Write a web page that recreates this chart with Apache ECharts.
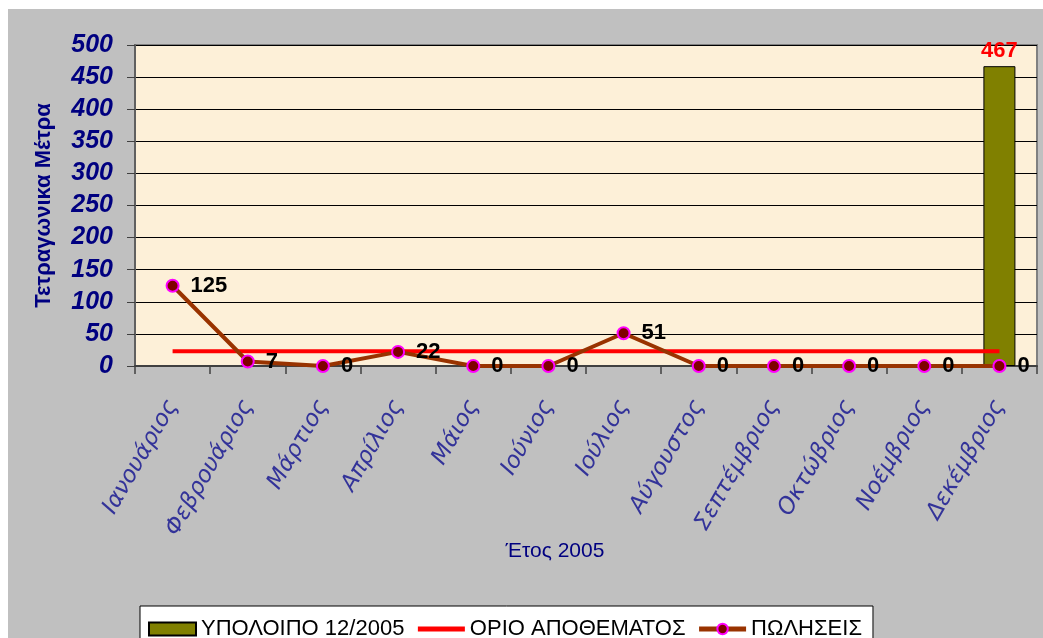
<!DOCTYPE html>
<html>
<head>
<meta charset="utf-8">
<script src="https://cdn.jsdelivr.net/npm/echarts@6/dist/echarts.min.js"></script>
<style>
  html, body { margin: 0; padding: 0; background: #fff; }
  #main { position: absolute; left: 8px; top: 9px; width: 1035px; height: 629px; }
</style>
</head>
<body>
<div id="main"></div>
<script>
// months of 2005
var months = ['Ιανουάριος', 'Φεβρουάριος', 'Μάρτιος', 'Απρίλιος', 'Μάιος', 'Ιούνιος',
    'Ιούλιος', 'Αύγουστος', 'Σεπτέμβριος', 'Οκτώβριος', 'Νοέμβριος', 'Δεκέμβριος'];
var balance = ['-', '-', '-', '-', '-', '-', '-', '-', '-', '-', '-', 467];
var stockLimit = [23, 23, 23, 23, 23, 23, 23, 23, 23, 23, 23, 23];
var sales = [125, 7, 0, 22, 0, 0, 51, 0, 0, 0, 0, 0];

var font = 'Liberation Sans, Arial, sans-serif';
var chart = echarts.init(document.getElementById('main'));

chart.setOption({
    backgroundColor: '#c0c0c0',
    animation: false,
    textStyle: { fontFamily: font },
    grid: {
        left: 127, right: 6, top: 36, bottom: 272,
        show: true,
        backgroundColor: '#fdf0d8',
        borderColor: '#808080',
        borderWidth: 2
    },
    legend: {
        left: 132, top: 597,
        backgroundColor: '#fff',
        borderColor: '#000',
        borderWidth: 1,
        padding: [12, 11, 20, 8],
        itemWidth: 47, itemHeight: 13, itemGap: 11,
        textStyle: { fontSize: 22, color: '#000', fontFamily: font },
        data: [
            { name: 'ΥΠΟΛΟΙΠΟ 12/2005', icon: 'rect' },
            { name: 'ΟΡΙΟ ΑΠΟΘΕΜΑΤΟΣ', itemStyle: { opacity: 0 }, lineStyle: { width: 5 } },
            { name: 'ΠΩΛΗΣΕΙΣ', lineStyle: { width: 5 } }
        ]
    },
    graphic: [{
        type: 'text', x: 547, y: 532,
        style: { text: 'Έτος 2005', fill: '#000080', font: '21px ' + font, align: 'center' }
    }],
    xAxis: {
        type: 'category',
        data: months,
        boundaryGap: true,
        axisLine: { lineStyle: { color: '#404040', width: 2 } },
        axisTick: { show: true, length: 8, lineStyle: { color: '#404040', width: 1.5 } },
        axisLabel: {
            rotate: 60, margin: 36, interval: 0,
            color: '#333399', fontSize: 23, fontStyle: 'italic',
            fontFamily: 'DejaVu Sans, sans-serif'
        }
    },
    yAxis: {
        type: 'value',
        min: 0, max: 500, interval: 50,
        name: 'Τετραγωνικα Μέτρα',
        nameLocation: 'middle',
        nameGap: 80,
        nameTextStyle: { color: '#000080', fontSize: 22, fontWeight: 'bold' },
        axisLine: { show: true, lineStyle: { color: '#606060', width: 2 } },
        axisTick: { show: true, length: 8, lineStyle: { color: '#404040' } },
        axisLabel: {
            margin: 22, color: '#000080', fontSize: 25,
            fontWeight: 'bold', fontStyle: 'italic'
        },
        splitLine: { lineStyle: { color: '#000', width: 1 } }
    },
    series: [{
        name: 'ΥΠΟΛΟΙΠΟ 12/2005',
        type: 'bar',
        data: balance,
        barWidth: 32,
        itemStyle: { color: '#808000', borderColor: '#000', borderWidth: 1 },
        label: {
            show: true, position: 'top', distance: 4,
            color: '#ff0000', fontSize: 22, fontWeight: 'bold'
        },
        z: 1
    }, {
        name: 'ΟΡΙΟ ΑΠΟΘΕΜΑΤΟΣ',
        type: 'line',
        data: stockLimit,
        symbol: 'none',
        lineStyle: { color: '#ff0000', width: 4 },
        itemStyle: { color: '#ff0000' },
        z: 2
    }, {
        name: 'ΠΩΛΗΣΕΙΣ',
        type: 'line',
        data: sales,
        symbol: 'circle',
        symbolSize: 12,
        lineStyle: { color: '#993300', width: 4 },
        itemStyle: { color: '#800000', borderColor: '#ff00ff', borderWidth: 2 },
        label: {
            show: true, position: 'right', distance: 11,
            color: '#000', fontSize: 22, fontWeight: 'bold'
        },
        z: 3
    }]
});
</script>
</body>
</html>
